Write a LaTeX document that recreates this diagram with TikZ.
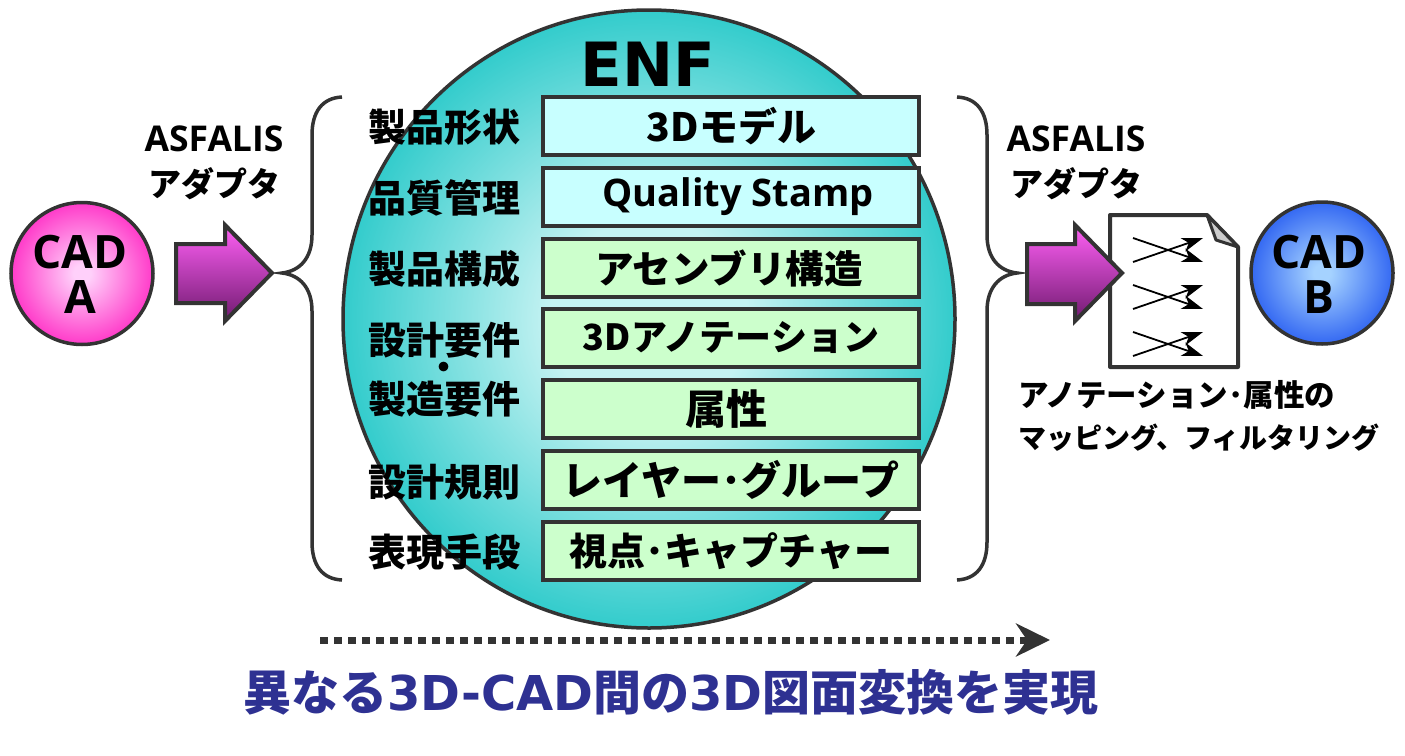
\documentclass[tikz,border=0pt]{standalone}
\usepackage{fontspec}
\usetikzlibrary{arrows.meta}
\setmainfont{Open Sans}
\newfontfamily\jp{Noto Sans CJK JP}
\newfontfamily\vb{DejaVu Sans}
\newcommand{\fs}[1]{\fontsize{#1}{#1}\selectfont}
\newcommand{\tightlines}{\lineskiplimit=-100pt\relax}
\definecolor{edge}{HTML}{333333}
\definecolor{teal}{HTML}{33CCCC}
\definecolor{tealin}{HTML}{C4F2F2}
\definecolor{titleblue}{HTML}{2E3192}
\pgfdeclareradialshading{enfshade}{\pgfpointorigin}{color(0bp)=(tealin); color(8bp)=(tealin); color(25bp)=(teal); color(100bp)=(teal)}
\definecolor{ain}{HTML}{FFD0FA}\definecolor{aout}{HTML}{FF1FC0}
\definecolor{bin}{HTML}{A5D2FF}\definecolor{bout}{HTML}{1F55F0}
\pgfdeclareradialshading{ashade}{\pgfpointorigin}{color(0bp)=(ain); color(3bp)=(ain); color(29bp)=(aout); color(100bp)=(aout)}
\pgfdeclareradialshading{bshade}{\pgfpointorigin}{color(0bp)=(bin); color(3bp)=(bin); color(29bp)=(bout); color(100bp)=(bout)}
\tikzset{
  x=1pt,y=-1pt,
  cadnode/.style={circle,draw=edge,line width=3.5pt,minimum size=142pt,inner sep=0pt},
  cadtext/.style={inner sep=0pt,align=center,font=\bfseries\fs{46},text=black},
  layerbox/.style={draw=edge,line width=4pt,minimum width=376pt,minimum height=58pt,inner sep=0pt,font=\jp\bfseries\fs{36},text=black,anchor=center},
  bluebox/.style={layerbox,fill=cyanlite},
  greenbox/.style={layerbox,fill=greenlite},
  sidelabel/.style={font=\jp\bfseries\fs{38},inner sep=0pt,text=black},
  adapter/.style={align=center,inner sep=0pt,text=black},
  bracket/.style={draw=edge,line width=3.5pt},
  blockarrow/.style={draw=edge,line width=4pt,top color=arrowtop,bottom color=arrowbot,miter limit=10},
  cross/.style={draw=black,line width=1.8pt,-{Stealth[length=21pt,width=14pt,inset=6pt]}},
}
\definecolor{cyanlite}{HTML}{C8FFFF}
\definecolor{greenlite}{HTML}{CCFFCC}
\definecolor{arrowtop}{HTML}{FF60F5}
\definecolor{arrowbot}{HTML}{701A70}
\begin{document}
\begin{tikzpicture}
\useasboundingbox (0,0) rectangle (1405,755);
% big circle
\shade[shading=enfshade] (649,319) ellipse [x radius=306,y radius=309];
\draw[edge,line width=3.5pt] (649,319) ellipse [x radius=306,y radius=309];
\node[inner sep=0pt,font=\vb\bfseries\fs{61},text=black] (enf) at (648,64) {ENF};
% boxes
\node[bluebox]  (b1) at (731,126) {\hspace*{1pt}\fs{39}3Dモデル};
\node[bluebox]  (b2) at (731,197) {\hspace*{14pt}{\rmfamily\bfseries\fs{38}Quality Stamp}};
\node[greenbox] (b3) at (731,268) {\hspace*{-4pt}\fs{38.5}アセンブリ構造};
\node[greenbox] (b4) at (731,338) {3Dアノテーション};
\node[greenbox] (b5) at (731,409) {\hspace*{-10pt}\fs{41}属性};
\node[greenbox] (b6) at (731,480) {\fs{40}レイヤー･グループ};
\node[greenbox] (b7) at (731,551) {\fs{38}視点･キャプチャー};
% side labels
\node[sidelabel] (s1) at (444,127) {製品形状};
\node[sidelabel] (s2) at (444,198) {品質管理};
\node[sidelabel] (s3) at (444,269) {製品構成};
\node[sidelabel,align=center,font={\jp\bfseries\fontsize{38}{29.5}\selectfont\tightlines}] (s4) at (444,370) {設計要件\\{\fontsize{46}{29.5}\selectfont ･}\\製造要件};
\node[sidelabel] (s6) at (444,482) {設計規則};
\node[sidelabel] (s7) at (444,552) {表現手段};
% braces
\coordinate (lb) at (282,273);
\coordinate (rb) at (1017,273);
\draw[bracket] (342,97) .. controls (322,98) and (312,112) .. (312,135) -- (312,235) .. controls (312,258) and (300,271) .. (lb) .. controls (300,275) and (312,288) .. (312,311) -- (312,542) .. controls (312,565) and (322,579) .. (342,580);
\draw[bracket] (957,97) .. controls (977,98) and (987,112) .. (987,135) -- (987,235) .. controls (987,258) and (999,271) .. (rb) .. controls (999,275) and (987,288) .. (987,311) -- (987,542) .. controls (987,565) and (977,579) .. (957,580);
% cad nodes
\shade[shading=ashade] (82,273.5) circle (71);
\node[cadnode] (a) at (82,273.5) {};
\node[cadtext] (at) at (80,274) {CAD\\[-1pt]A};
\shade[shading=bshade] (1322,273) circle (71);
\node[cadnode] (c) at (1322,273) {};
\node[cadtext] (ct) at (1319,274) {CAD\\[-1pt]B};
% adapters
\node[adapter,font=\bfseries\fs{35.5}] (l1) at (214,139) {ASFALIS};
\node[adapter,font=\jp\bfseries\fs{33}] (l2) at (214,184) {アダプタ};
\node[adapter,font=\bfseries\fs{35.5}] (r1) at (1076,139) {ASFALIS};
\node[adapter,font=\jp\bfseries\fs{33}] (r2) at (1076,184) {アダプタ};
% document
\draw[edge,line width=4pt,fill=white,line join=round] (1110,215) -- (1207,215) -- (1238,247) -- (1238,367) -- (1110,367) -- cycle;
\draw[edge,line width=3pt,fill=black!20,line join=round] (1207,215) -- (1238,247) -- (1216,240) -- cycle;
% block arrows
\draw[blockarrow] (176,244) -- (225,244) -- (225,225) -- (272,273) -- (225,321) -- (225,303) -- (176,303) -- cycle;
\draw[blockarrow] (1027,244) -- (1075,244) -- (1075,225) -- (1122,273) -- (1075,321) -- (1075,304) -- (1027,304) -- cycle;
% crossing arrows
\foreach \n/\d in {1/0,2/47,3/94}{
  \coordinate (p\n a) at (1133,238+\d);
  \coordinate (p\n b) at (1203,262+\d);
  \coordinate (p\n c) at (1133,262+\d);
  \coordinate (p\n d) at (1203,238+\d);
  \draw[cross] (p\n a) -- (p\n b);
  \draw[cross] (p\n c) -- (p\n d);
}
% mapping label
\node[inner sep=0pt,anchor=west,font=\jp\bfseries\fs{30.5},text=black] (m1) at (1018,395) {アノテーション･属性の};
\node[inner sep=0pt,anchor=west,font=\jp\bfseries\fs{28},text=black] (m2) at (1018,438) {マッピング、フィルタリング};
% dotted arrow
\coordinate (d1) at (320,640);
\coordinate (d2) at (1050,640);
\draw[edge,line width=7pt,dash pattern=on 7.5pt off 6.5pt,-{Stealth[length=34pt,width=33pt,inset=11pt]}] (d1) -- (d2);
% title
\node[inner sep=0pt,text=titleblue,font=\jp\bfseries\fs{48}] (t) at (671,692) {異なる{\vb\bfseries 3D-CAD}間の{\vb\bfseries 3D}図面変換を実現};
\end{tikzpicture}
\end{document}
